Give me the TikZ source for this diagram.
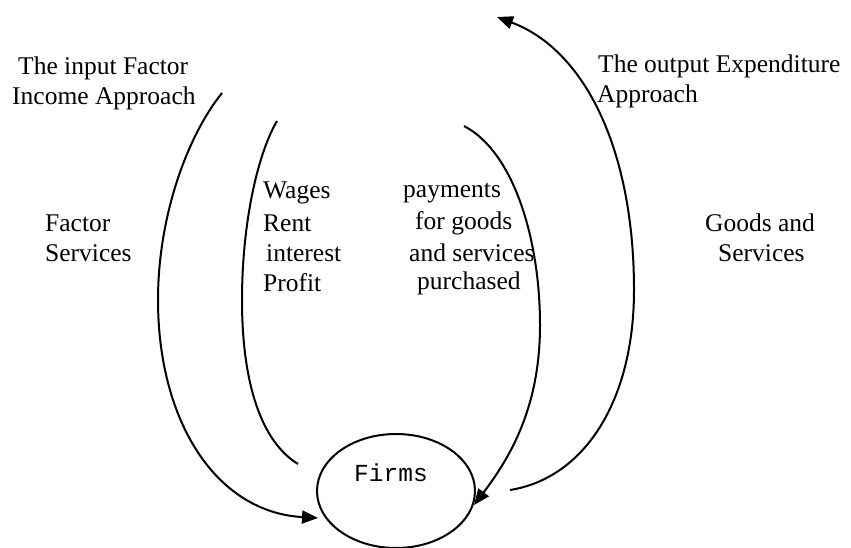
\documentclass[tikz,border=0pt]{standalone}
\usepackage{fontspec}
\setmainfont{Liberation Serif}
\newfontfamily\monofont{Liberation Mono}
\usetikzlibrary{arrows.meta,shapes.geometric}
\begin{document}
\begin{tikzpicture}[x=1pt,y=-1pt,
  lbl/.style={font=\fontsize{25.5}{30}\selectfont, inner sep=0pt, anchor=west},
  flow/.style={line width=2pt},
  tip/.style={-{Triangle[length=16pt,width=13pt]}}]
\useasboundingbox (0,0) rectangle (851,548);
% Firms ellipse
\node (firms) [ellipse, draw, line width=2pt, minimum width=158pt, minimum height=114pt] at (396,491) {};
\node (firmslbl) [font=\monofont\fontsize{24.5}{28}\selectfont, inner sep=0pt] at (391,473) {Firms};
% labels
\node (in1) [lbl] at (18,68) {The input Factor};
\node (in2) [lbl] at (12,98) {Income Approach};
\node (fs1) [lbl] at (45,223) {Factor};
\node (fs2) [lbl] at (45,253) {Services};
\node (w1) [lbl] at (263,193) {Wages};
\node (w2) [lbl] at (263,223) {Rent};
\node (w3) [lbl] at (266,253) {interest};
\node (w4) [lbl] at (263,283) {Profit};
\node (p1) [lbl] at (403,193) {payments};
\node (p2) [lbl] at (415,223) {for goods};
\node (p3) [lbl] at (409,253) {and services};
\node (p4) [lbl] at (417,283) {purchased};
\node (out1) [lbl] at (598,66) {The output Expenditure};
\node (out2) [lbl] at (597,96) {Approach};
\node (gs1) [lbl] at (705,223) {Goods and};
\node (gs2) [lbl] at (718,253) {Services};
% connector end points
\coordinate (a0) at (222,93);
\coordinate (a1) at (318,518);
\coordinate (b0) at (277,121);
\coordinate (b1) at (298,464);
\coordinate (c0) at (464,126);
\coordinate (c1) at (474,505);
\coordinate (d0) at (510,490);
\coordinate (d1) at (497,17);
% flows
\draw[flow,tip] (a0) .. controls (188,135) and (158,215) .. (158,300)
   .. controls (158,420) and (215,512) .. (a1);
\draw[flow] (b0) .. controls (257,155) and (242,225) .. (242,300)
   .. controls (242,385) and (262,442) .. (b1);
\draw[flow,tip] (c0) .. controls (514,152) and (540,240) .. (540,325)
   .. controls (540,405) and (512,455) .. (c1);
\draw[flow,tip] (d0) .. controls (585,478) and (634,400) .. (634,290)
   .. controls (634,150) and (585,50) .. (d1);
\end{tikzpicture}
\end{document}
